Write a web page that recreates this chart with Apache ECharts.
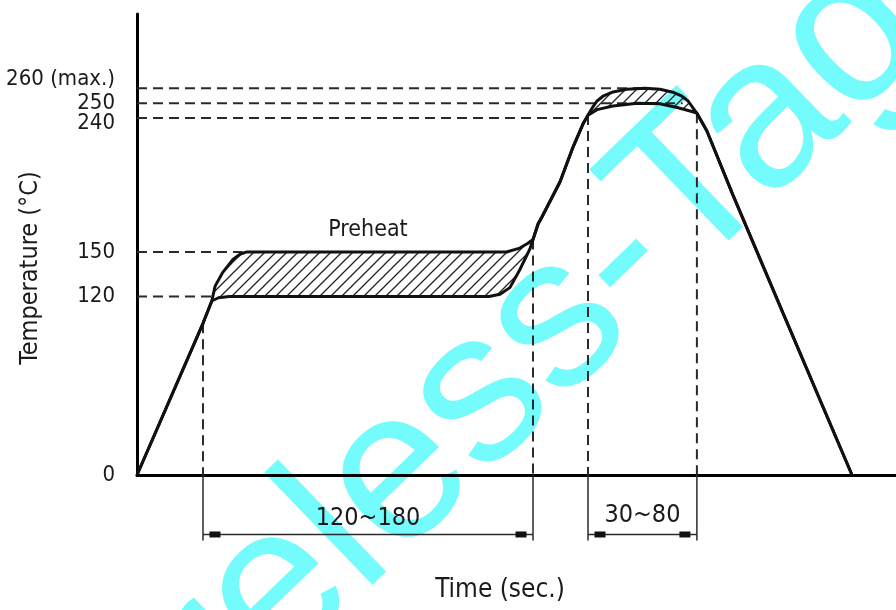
<!DOCTYPE html>
<html><head><meta charset="utf-8">
<script src="https://cdn.jsdelivr.net/npm/echarts@6/dist/echarts.min.js"></script>
<style>html,body{margin:0;padding:0;background:#fff}#c{width:896px;height:610px}</style>
</head><body><div id="c"></div>
<script>
// ---- data (time in s, temperature in °C) ----
const yTickValues = [0, 120, 150, 240, 250, 260];
const yTickLabels = ['0', '120', '150', '240', '250', '260 (max.)'];

const upperProfile = [[0,0],[30,102],[34,117],[35.5,127],[39,136.3],[43.6,144.9],[47,148.6],[50,150],[168,150],[174,152.6],[177.7,155.8],[180,158.4],[182.3,168.8],[184,173.3],[192.3,197.2],[198.2,220.5],[202.7,236],[205,242],[207,247],[209.1,251.5],[211.8,254.7],[216.4,257.6],[222.7,259.4],[230.9,260],[237.7,259.4],[243.6,257.4],[247.7,254.7],[250.5,251.5],[253.6,245],[254.5,243.3],[259,231.5],[270.9,188.2],[293.6,109],[325,0]];
const lowerProfile = [[0,0],[30,102],[34,117],[37,119.2],[42,120],[160,120],[165,121.5],[169.5,126],[174,138],[178.6,152],[180,158.4],[182.3,168.8],[184,173.3],[192.3,197.2],[198.2,220.5],[202.7,236],[205,242],[209.1,245.7],[216.4,248.1],[227.3,250],[237.7,249.6],[245.5,247.1],[251.4,244.8],[254.5,243.3],[259,231.5],[270.9,188.2],[293.6,109],[325,0]];

const guideTemps = [260, 250, 240, 150, 120];
const guideEnds  = [230, 248, 204.5, 48, 34];

const markerTimes = [30, 180, 205, 254.5];
const markerTops  = [102, 158.4, 242, 243.3];

const spanStarts = [30, 205];
const spanEnds   = [180, 254.5];
const spanLabels = ['120~180', '30~80'];
const spanLabelTemps = [-29, -27];
const dimLevel = -40;
const dimBottom = -44;

const preheatText = 'Preheat';
const preheatAt = [105, 165];

// ---- helpers ----
const NARROW = '"Liberation Sans Narrow","DejaVu Sans Condensed","Liberation Sans",sans-serif';
const labelMap = {};
yTickValues.forEach((v, i) => labelMap[v] = yTickLabels[i]);
const tickFont = {fontSize: 22, fontFamily: NARROW, color: '#1a1a1a'};

function makeHatch() {
  const s = 11, c = document.createElement('canvas');
  c.width = s; c.height = s;
  const g = c.getContext('2d');
  g.strokeStyle = '#222'; g.lineWidth = 1.3;
  g.beginPath();
  g.moveTo(-2, s + 2); g.lineTo(s + 2, -2);
  g.moveTo(-2, 2); g.lineTo(2, -2);
  g.moveTo(s - 2, s + 2); g.lineTo(s + 2, s - 2);
  g.stroke();
  return {image: c, repeat: 'repeat'};
}
const hatch = makeHatch();
const hatchPoly = upperProfile.concat(lowerProfile.slice().reverse());

const series = [];
series.push({
  type: 'custom', z: 1, silent: true,
  data: [[0, 0]],
  renderItem: (params, api) => ({
    type: 'polygon',
    shape: {points: hatchPoly.map(p => api.coord(p))},
    style: {fill: hatch, stroke: null}
  })
});
[upperProfile, lowerProfile].forEach(d => series.push({
  type: 'line', data: d, showSymbol: false, z: 5, silent: true,
  lineStyle: {color: '#111', width: 3}
}));
guideTemps.forEach((T, i) => series.push({
  type: 'line', data: [[0, T], [guideEnds[i], T]], showSymbol: false, z: 3, silent: true,
  lineStyle: {color: '#2a2a2a', width: 2, type: [10, 6]}
}));
markerTimes.forEach((t, i) => {
  series.push({
    type: 'line', data: [[t, markerTops[i]], [t, 0]], showSymbol: false, z: 3, silent: true,
    lineStyle: {color: '#2a2a2a', width: 2, type: [10, 6]}
  });
  series.push({
    type: 'line', data: [[t, 0], [t, dimBottom]], showSymbol: false, z: 3, silent: true, clip: false,
    lineStyle: {color: '#2a2a2a', width: 1.5}
  });
});
spanStarts.forEach((a, i) => series.push({
  type: 'line', clip: false, z: 3, silent: true,
  data: [
    {value: [a, dimLevel], symbolOffset: [12, 0]},
    {value: [spanEnds[i], dimLevel], symbolOffset: [-12, 0]}
  ],
  showSymbol: true, symbol: 'rect', symbolSize: [11, 6],
  itemStyle: {color: '#111'},
  lineStyle: {color: '#2a2a2a', width: 1.5}
}));
series.push({
  type: 'scatter', clip: false, symbolSize: 0, silent: true, z: 6,
  itemStyle: {opacity: 1},
  data: spanStarts.map((a, i) => ({value: [(a + spanEnds[i]) / 2, spanLabelTemps[i]], name: spanLabels[i]}))
    .concat([{value: preheatAt, name: preheatText, label: {fontSize: 23}}]),
  label: {show: true, position: 'inside', formatter: p => p.name, color: '#1a1a1a', opacity: 1, fontSize: 25, fontFamily: NARROW}
});

const chart = echarts.init(document.getElementById('c'), null, {renderer: 'canvas'});
chart.setOption({
  animation: false,
  backgroundColor: '#fff',
  grid: {left: 137, right: 0, top: 14, bottom: 135, containLabel: false, outerBoundsMode: 'none'},
  xAxis: {
    type: 'value', min: 0, max: 345,
    axisLine: {show: true, lineStyle: {color: '#000', width: 3}},
    axisTick: {show: false}, axisLabel: {show: false}, splitLine: {show: false}
  },
  yAxis: {
    type: 'value', min: 0, max: 310, interval: 10,
    axisLine: {show: true, lineStyle: {color: '#000', width: 3}},
    axisTick: {show: false}, splitLine: {show: false},
    axisLabel: {
      show: true, margin: 22, ...tickFont,
      formatter: v => {
        if (labelMap[v] === undefined) return '';
        if (v === 260) return '{up|' + labelMap[v] + '}';
        if (v === 240) return '{down|' + labelMap[v] + '}';
        return labelMap[v];
      },
      rich: {
        up: {...tickFont, padding: [0, 0, 18, 0]},
        down: {...tickFont, padding: [10, 0, 0, 0]}
      }
    }
  },
  graphic: [
    {type: 'text', z: -10, x: 3, y: 859, rotation: 44 * Math.PI / 180, silent: true,
     style: {text: 'Wireless-Tag', fontSize: 215, fontFamily: '"Liberation Sans",Arial,sans-serif', fill: '#74fbfb', align: 'left', verticalAlign: 'middle'}},
    {type: 'text', z: 10, x: 30, y: 268, rotation: Math.PI / 2,
     style: {text: 'Temperature (°C)', fontSize: 25, fontFamily: NARROW, fill: '#1a1a1a', align: 'center', verticalAlign: 'middle'}},
    {type: 'text', z: 10, x: 500, y: 590,
     style: {text: 'Time (sec.)', fontSize: 26, fontFamily: NARROW, fill: '#1a1a1a', align: 'center', verticalAlign: 'middle'}}
  ],
  series: series
});
</script></body></html>
